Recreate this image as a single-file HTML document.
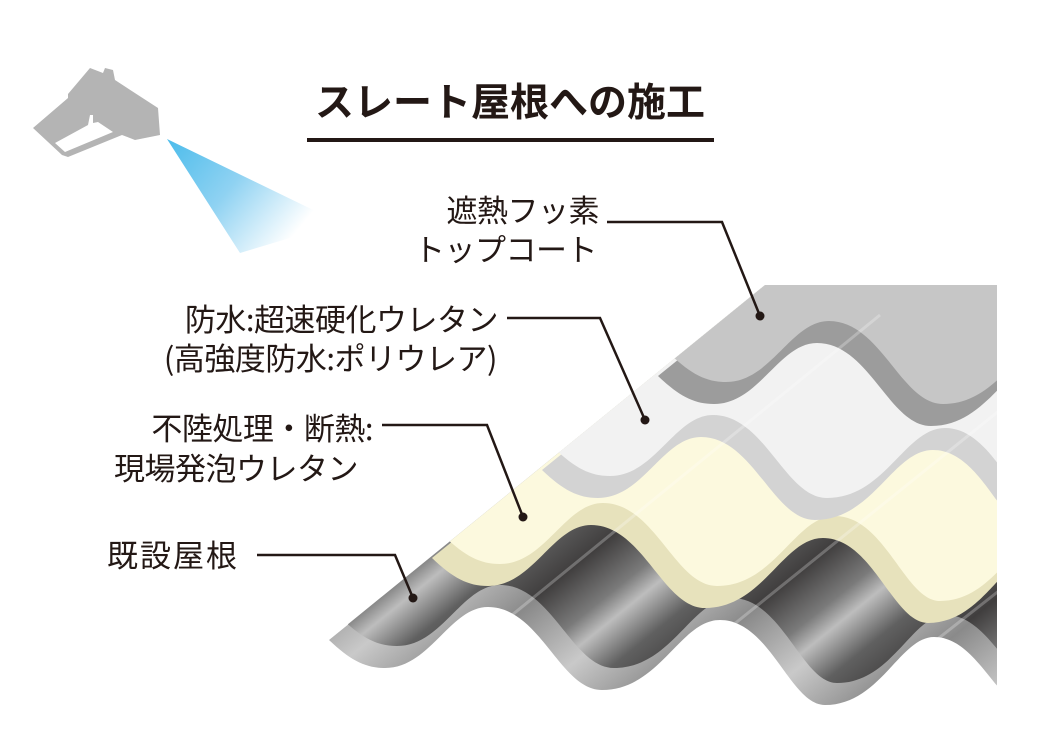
<!DOCTYPE html>
<html><head><meta charset="utf-8"><style>
html,body{margin:0;padding:0;background:#fff}
body{width:1039px;height:735px;overflow:hidden;position:relative;font-family:"Noto Sans CJK JP","Liberation Sans",sans-serif;color:#231815}
.t{position:absolute;font-size:31px;line-height:1;white-space:nowrap;letter-spacing:-0.5px}
</style></head><body>
<svg width="1039" height="735" style="position:absolute;left:0;top:0">
<defs>
<linearGradient id="spray" x1="167" y1="139" x2="290" y2="240" gradientUnits="userSpaceOnUse">
<stop offset="0" stop-color="#4cbceb"/><stop offset="0.5" stop-color="#8fd2f2"/><stop offset="1" stop-color="#fff"/>
</linearGradient>
<linearGradient id="dk" x1="470" y1="560" x2="561" y2="673" gradientUnits="userSpaceOnUse" spreadMethod="repeat">
<stop offset="0" stop-color="#bdbdbd"/><stop offset="0.25" stop-color="#606060"/><stop offset="0.55" stop-color="#403e3e"/><stop offset="0.85" stop-color="#7a7a7a"/><stop offset="1" stop-color="#bdbdbd"/>
</linearGradient>
<linearGradient id="dkb" x1="470" y1="560" x2="561" y2="673" gradientUnits="userSpaceOnUse" spreadMethod="repeat">
<stop offset="0" stop-color="#c9c9c9"/><stop offset="0.5" stop-color="#8a8a8a"/><stop offset="1" stop-color="#c9c9c9"/>
</linearGradient>
<clipPath id="sheet"><polygon points="229,721 765,285 997,285 997,735 229,735"/></clipPath>
<path id="w" d="M329,640 C350,660 365,668 385,668 C430,668 450,607 488,607 C540,607 560,690 602,690 C660,690 680,620 720,620 C770,620 790,705 825,705 C880,705 900,637 934,637 C980,637 1000,715 1040,715 C1090,715 1110,650 1150,650 L1500,650 L1500,-400 L1229,-89 Z"/>
</defs>
<polygon points="167,139 240,253 340,223" fill="url(#spray)"/>
<path d="M33,128 L68,98 L68,94 L90,68 L103,73 L105,68 L113,70 L115,80 L158,108 L160,135 L135,140 L122,135 L68,157 L62,155 Z M55,143 L65,152 L113,132 L98,122 L93,123 L93,115 L90,115 L88,125 Z" fill="#b4b4b4" fill-rule="evenodd"/>
<text x="510" y="116" text-anchor="middle" font-family="Liberation Sans,Noto Sans CJK JP,sans-serif" font-weight="bold" font-size="39" fill="#231815">スレート屋根への施工</text>
<rect x="307" y="138" width="407" height="4" fill="#231815"/>
<g clip-path="url(#sheet)">
 <use href="#w" fill="url(#dkb)"/>
 <use href="#w" transform="translate(12,-22)" fill="url(#dk)"/>
 <g transform="translate(103,-82)"><use href="#w" fill="#e7e2bc"/><use href="#w" transform="translate(12,-22)" fill="#fcf9de"/></g>
 <g transform="translate(213,-170)"><use href="#w" fill="#d3d3d3"/><use href="#w" transform="translate(12,-22)" fill="#f2f2f2"/></g>
 <g transform="translate(329,-264)"><use href="#w" fill="#9c9c9c"/><use href="#w" transform="translate(12,-22)" fill="#c6c6c6"/></g>
 <g stroke="#fff" stroke-opacity="0.25" stroke-width="3">
  <line x1="420" y1="690" x2="880" y2="315"/><line x1="640" y1="700" x2="1000" y2="410"/><line x1="860" y1="700" x2="1000" y2="590"/>
 </g>
</g>
<g stroke="#231815" stroke-width="2.5" fill="none">
 <polyline points="607,222 722,222 760,316"/>
 <polyline points="507,318 600,318 645,420"/>
 <polyline points="382,425 487,425 523,517"/>
 <polyline points="257,555 395,555 413,598"/>
</g>
<g fill="#231815"><circle cx="760" cy="316" r="4.5"/><circle cx="645" cy="420" r="4.5"/><circle cx="523" cy="517" r="4.5"/><circle cx="413" cy="598" r="4.5"/></g>
</svg>
<div class="t" style="right:440px;top:193px">遮熱フッ素</div>
<div class="t" style="right:442px;top:232px">トップコート</div>
<div class="t" style="right:541px;top:302px">防水:超速硬化ウレタン</div>
<div class="t" style="right:542px;top:341px">(高強度防水:ポリウレア)</div>
<div class="t" style="right:666px;top:411px">不陸処理・断熱:</div>
<div class="t" style="right:681px;top:451px">現場発泡ウレタン</div>
<div class="t" style="left:107px;top:538px;letter-spacing:2px">既設屋根</div>
</body></html>
